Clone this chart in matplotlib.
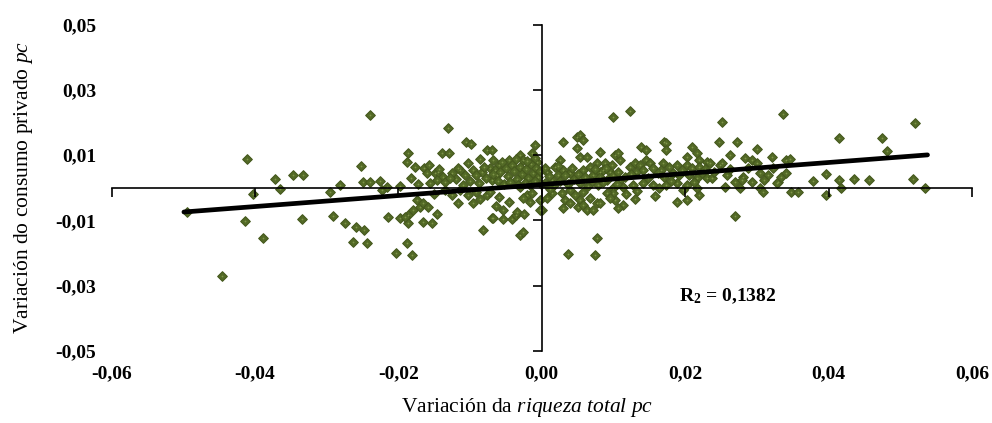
import numpy as np
import matplotlib
matplotlib.use("Agg")
import matplotlib.pyplot as plt

plt.rcParams['font.family'] = ['Liberation Serif', 'DejaVu Serif']
plt.rcParams['mathtext.fontset'] = 'custom'
plt.rcParams['mathtext.rm'] = 'Liberation Serif'
plt.rcParams['mathtext.it'] = 'Liberation Serif:italic'
plt.rcParams['mathtext.bf'] = 'Liberation Serif:bold'

# Variación da riqueza total pc (x) e do consumo privado pc (y)
riqueza = [
    -0.0495, -0.0411, -0.0446, -0.0414, -0.0403, -0.0389, -0.0372, -0.0365, -0.0347, -0.0333,
    -0.0334, -0.0240, -0.0295, -0.0282, -0.0291, -0.0275, -0.0259, -0.0248, -0.0263, -0.0244,
    -0.0252, -0.0249, -0.0240, -0.0226, -0.0223, -0.0216, -0.0198, -0.0215, -0.0197, -0.0187,
    -0.0187, -0.0166, -0.0188, -0.0203, -0.0181, -0.0187, -0.0188, -0.0177, -0.0164, -0.0183,
    -0.0174, -0.0170, -0.0180, -0.0131, -0.0105, -0.0099, -0.0157, -0.0139, -0.0130, -0.0149,
    -0.0145, -0.0138, -0.0125, -0.0114, -0.0117, -0.0103, -0.0096, -0.0086, -0.0077, -0.0156,
    -0.0146, -0.0135, -0.0125, -0.0114, -0.0103, -0.0091, -0.0117, -0.0096, -0.0086, -0.0077,
    -0.0191, -0.0153, -0.0146, -0.0082, -0.0070, -0.0054, -0.0042, -0.0036,
    -0.0010, -0.0013, 0.0029, 0.0049, 0.0053, 0.0057, 0.0049, 0.0053, 0.0063, -0.0070,
    -0.0031, -0.0045, -0.0026, -0.0068, -0.0059, -0.0072, -0.0063, -0.0070, -0.0006, 0.0025,
    0.0018, 0.0029, 0.0039, 0.0022, 0.0008, 0.0014, 0.0004, 0.0057, 0.0067, 0.0077,
    0.0071, 0.0081, -0.0072, -0.0059, -0.0045, -0.0054, -0.0068, -0.0035, -0.0031, -0.0021,
    -0.0017, -0.0026, -0.0013, -0.0003, 0.0001, 0.0007, 0.0015, 0.0028, 0.0032, 0.0039,
    0.0029, 0.0046, 0.0053, 0.0050, 0.0057, 0.0063, 0.0071, 0.0067, 0.0077, -0.0031,
    -0.0026, 0.0077, 0.0099, 0.0123, 0.0036, 0.0074,
    0.0139, 0.0146, 0.0171, 0.0174, 0.0174, 0.0102, 0.0109, 0.0106, 0.0081, 0.0209,
    0.0203, 0.0217, 0.0220, 0.0230, 0.0088, 0.0098, 0.0085, 0.0095, 0.0081, 0.0091,
    0.0099, 0.0106, 0.0109, 0.0116, 0.0123, 0.0130, 0.0137, 0.0146, 0.0151, 0.0141,
    0.0132, 0.0155, 0.0169, 0.0178, 0.0188, 0.0167, 0.0183, 0.0171, 0.0192, 0.0202,
    0.0210, 0.0220, 0.0224, 0.0206, 0.0216, 0.0230, 0.0099, 0.0113, 0.0127, 0.0141,
    0.0155, 0.0164, 0.0174, 0.0188, 0.0202, 0.0102, 0.0113, 0.0099, 0.0091, 0.0081,
    0.0188, 0.0202, 0.0197, 0.0220, 0.0216,
    0.0337, 0.0252, 0.0247, 0.0272, 0.0300, 0.0262, 0.0321, 0.0283, 0.0293, 0.0300,
    0.0341, 0.0346, 0.0234, 0.0248, 0.0252, 0.0238, 0.0258, 0.0280, 0.0304, 0.0315,
    0.0269, 0.0279, 0.0293, 0.0329, 0.0334, 0.0341, 0.0255, 0.0276, 0.0304, 0.0308,
    0.0328, 0.0348, 0.0358, 0.0378, 0.0397, 0.0396, 0.0269, 0.0415, 0.0474, 0.0521,
    0.0482, 0.0415, 0.0418, 0.0436, 0.0456, 0.0518, 0.0535,
    -0.0065, -0.0058, -0.0050, -0.0047, -0.0041, -0.0038, -0.0035, -0.0030, -0.0027, -0.0022,
    -0.0019, -0.0015, -0.0012, -0.0008, -0.0005, -0.0002, -0.0061, -0.0053, -0.0044, -0.0033,
    -0.0024, -0.0016, -0.0009, -0.0001, -0.0068, -0.0055, -0.0036, -0.0020, -0.0010, -0.0078,
    -0.0083, -0.0088, -0.0081, -0.0092, -0.0100, -0.0107, -0.0110, -0.0120,
    0.0005, 0.0010, 0.0017, 0.0022, 0.0026, 0.0033, 0.0037, 0.0042, 0.0045, 0.0050,
    0.0054, 0.0060, 0.0064, 0.0070, 0.0074, 0.0078, 0.0012, 0.0040, 0.0058, 0.0085,
    0.0090, 0.0095, 0.0105, 0.0118, 0.0125, 0.0133, 0.0148, 0.0158, 0.0162, 0.0180,
    0.0195, 0.0212, 0.0228, 0.0240, 0.0262, 0.0287, 0.0310, 0.0322, 0.0106, 0.0130,
    -0.0143, -0.0128, -0.0135, -0.0150, -0.0160, -0.0165, -0.0173, -0.0158,
    -0.0064, -0.0025, -0.0003,
]
consumo = [
    -0.0074, 0.0089, -0.0270, -0.0101, -0.0018, -0.0153, 0.0028, -0.0003, 0.0040, 0.0040,
    -0.0095, 0.0224, -0.0012, 0.0009, -0.0086, -0.0107, -0.0120, -0.0129, -0.0166, -0.0169,
    0.0067, 0.0018, 0.0018, 0.0021, -0.0006, 0.0003, 0.0006, -0.0089, -0.0092, -0.0083,
    -0.0107, -0.0104, -0.0169, -0.0199, -0.0205, 0.0107, 0.0080, 0.0064, 0.0061, 0.0031,
    -0.0037, -0.0058, -0.0067, 0.0184, 0.0141, 0.0135, 0.0071, 0.0107, 0.0107, 0.0046,
    0.0049, 0.0034, 0.0046, 0.0055, 0.0061, 0.0077, 0.0055, 0.0089, 0.0117, 0.0015,
    0.0025, 0.0018, -0.0021, -0.0006, -0.0021, -0.0012, -0.0046, -0.0046, -0.0034, -0.0021,
    -0.0089, -0.0107, -0.0080, -0.0129, -0.0092, -0.0095, -0.0095, -0.0083,
    0.0132, 0.0107, 0.0141, 0.0156, 0.0162, 0.0147, 0.0123, 0.0095, 0.0095, 0.0117,
    0.0101, 0.0086, 0.0086, 0.0086, 0.0071, 0.0061, 0.0040, 0.0025, 0.0080, 0.0086,
    0.0064, 0.0055, 0.0046, 0.0040, 0.0049, 0.0025, 0.0015, 0.0055, 0.0064, 0.0077,
    0.0040, 0.0049, -0.0012, -0.0028, -0.0043, -0.0067, -0.0092, -0.0074, 0.0003, -0.0021,
    -0.0043, -0.0031, -0.0015, -0.0037, -0.0067, -0.0031, -0.0015, -0.0015, -0.0037, -0.0046,
    -0.0061, -0.0021, -0.0037, -0.0058, -0.0052, -0.0067, -0.0067, -0.0031, -0.0046, -0.0144,
    -0.0135, -0.0153, 0.0218, 0.0236, -0.0202, -0.0205,
    0.0126, 0.0117, 0.0141, 0.0138, 0.0117, 0.0101, 0.0086, 0.0107, 0.0110, 0.0126,
    0.0095, 0.0107, 0.0086, 0.0080, 0.0077, 0.0071, 0.0055, 0.0049, 0.0034, 0.0025,
    0.0040, 0.0049, 0.0025, 0.0034, 0.0064, 0.0077, 0.0071, 0.0086, 0.0077, 0.0055,
    0.0049, 0.0061, 0.0077, 0.0064, 0.0071, 0.0055, 0.0046, 0.0034, 0.0040, 0.0071,
    0.0061, 0.0064, 0.0046, 0.0040, 0.0031, 0.0031, 0.0000, 0.0003, 0.0009, 0.0015,
    0.0009, 0.0000, 0.0009, 0.0015, 0.0009, -0.0037, -0.0052, -0.0015, -0.0015, -0.0046,
    -0.0043, -0.0037, -0.0006, -0.0021, 0.0000,
    0.0227, 0.0202, 0.0141, 0.0141, 0.0120, 0.0101, 0.0095, 0.0092, 0.0086, 0.0077,
    0.0086, 0.0089, 0.0077, 0.0071, 0.0077, 0.0031, 0.0040, 0.0034, 0.0046, 0.0040,
    0.0018, 0.0025, 0.0018, 0.0018, 0.0034, 0.0046, 0.0003, 0.0000, 0.0000, -0.0012,
    0.0015, -0.0012, -0.0012, 0.0021, 0.0043, -0.0021, -0.0086, 0.0153, 0.0153, 0.0199,
    0.0113, 0.0025, 0.0000, 0.0028, 0.0025, 0.0028, 0.0000,
    0.0055, 0.0048, 0.0062, 0.0035, 0.0070, 0.0052, 0.0028, 0.0065, 0.0043, 0.0058,
    0.0030, 0.0074, 0.0046, 0.0061, 0.0033, 0.0052, 0.0020, 0.0012, 0.0018, 0.0010,
    0.0016, 0.0008, 0.0020, 0.0012, 0.0042, 0.0080, 0.0089, 0.0082, 0.0092, 0.0030,
    0.0048, 0.0015, 0.0065, 0.0038, 0.0022, 0.0040, 0.0008, 0.0027,
    0.0060, 0.0035, 0.0008, 0.0068, 0.0022, 0.0038, 0.0012, 0.0060, 0.0028, 0.0042,
    0.0015, 0.0033, 0.0005, 0.0022, 0.0058, 0.0010, -0.0005, -0.0008, -0.0012, 0.0018,
    0.0062, -0.0030, 0.0012, -0.0020, 0.0042, -0.0010, 0.0030, -0.0025, 0.0045, 0.0022,
    0.0055, 0.0018, 0.0058, 0.0050, 0.0058, 0.0060, 0.0025, 0.0062, -0.0061, -0.0035,
    0.0058, 0.0030, -0.0008, -0.0020, 0.0045, -0.0045, 0.0012, -0.0060,
    -0.0055, -0.0080, -0.0067,
]

# linha de tendência (extremos)
tend_x = [-0.0499, 0.0538]
tend_y = [-0.0074, 0.0101]
r2_texto = r'R$_{\mathbf{2}}$ = 0,1382'

xticks = [-0.06, -0.04, -0.02, 0.00, 0.02, 0.04, 0.06]
xlabels = ['-0,06', '-0,04', '-0,02', '0,00', '0,02', '0,04', '0,06']
yticks = [0.05, 0.03, 0.01, -0.01, -0.03, -0.05]
ylabels = ['0,05', '0,03', '0,01', '-0,01', '-0,03', '-0,05']

fig = plt.figure(figsize=(9.92, 4.23), dpi=100)
ax = fig.add_axes([0.1124, 0.1702, 0.8674, 0.7714])

ax.scatter(riqueza, consumo, marker='D', s=24, facecolor='#536a26',
           edgecolor='#46591e', linewidth=0.8, zorder=1)
ax.scatter(riqueza, consumo, marker='+', s=4, color='#7f944a',
           linewidth=0.5, zorder=1.1)
ax.plot(tend_x, tend_y, color='black', linewidth=3.4, solid_capstyle='round', zorder=3)

ax.set_xlim(-0.06, 0.06)
ax.set_ylim(-0.05, 0.05)

# eixos cruzando no zero
for s in ['top', 'right']:
    ax.spines[s].set_visible(False)
ax.spines['left'].set_position(('data', 0))
ax.spines['bottom'].set_position(('data', 0))
for s in ['left', 'bottom']:
    ax.spines[s].set_linewidth(1.2)
    ax.spines[s].set_zorder(2.5)
ax.set_xticks(xticks)
ax.set_yticks(yticks)
ax.tick_params(axis='both', direction='out', length=6.5, width=1.2,
               labelbottom=False, labelleft=False)

# rótulos nas bordas do gráfico
secx = ax.secondary_xaxis('bottom')
secx.set_xticks(xticks, xlabels)
secx.spines['bottom'].set_visible(False)
secx.tick_params(length=0, pad=10, labelsize=14)
for t in secx.get_xticklabels():
    t.set_fontweight('bold')
secx.set_xlabel(r'Variación da $\mathit{riqueza\ total\ pc}$', fontsize=15.5,
                labelpad=10, x=0.483)

secy = ax.secondary_yaxis('left')
secy.set_yticks(yticks, ylabels)
secy.spines['left'].set_visible(False)
secy.tick_params(length=0, pad=11, labelsize=14)
for t in secy.get_yticklabels():
    t.set_fontweight('bold')
secy.set_ylabel(r'Variación do consumo privado $\mathit{pc}$', fontsize=15.5, labelpad=15)

ax.text(0.0192, -0.0332, r2_texto, fontsize=14, fontweight='bold', ha='left', va='center')

fig.savefig('out.png', dpi=100)
